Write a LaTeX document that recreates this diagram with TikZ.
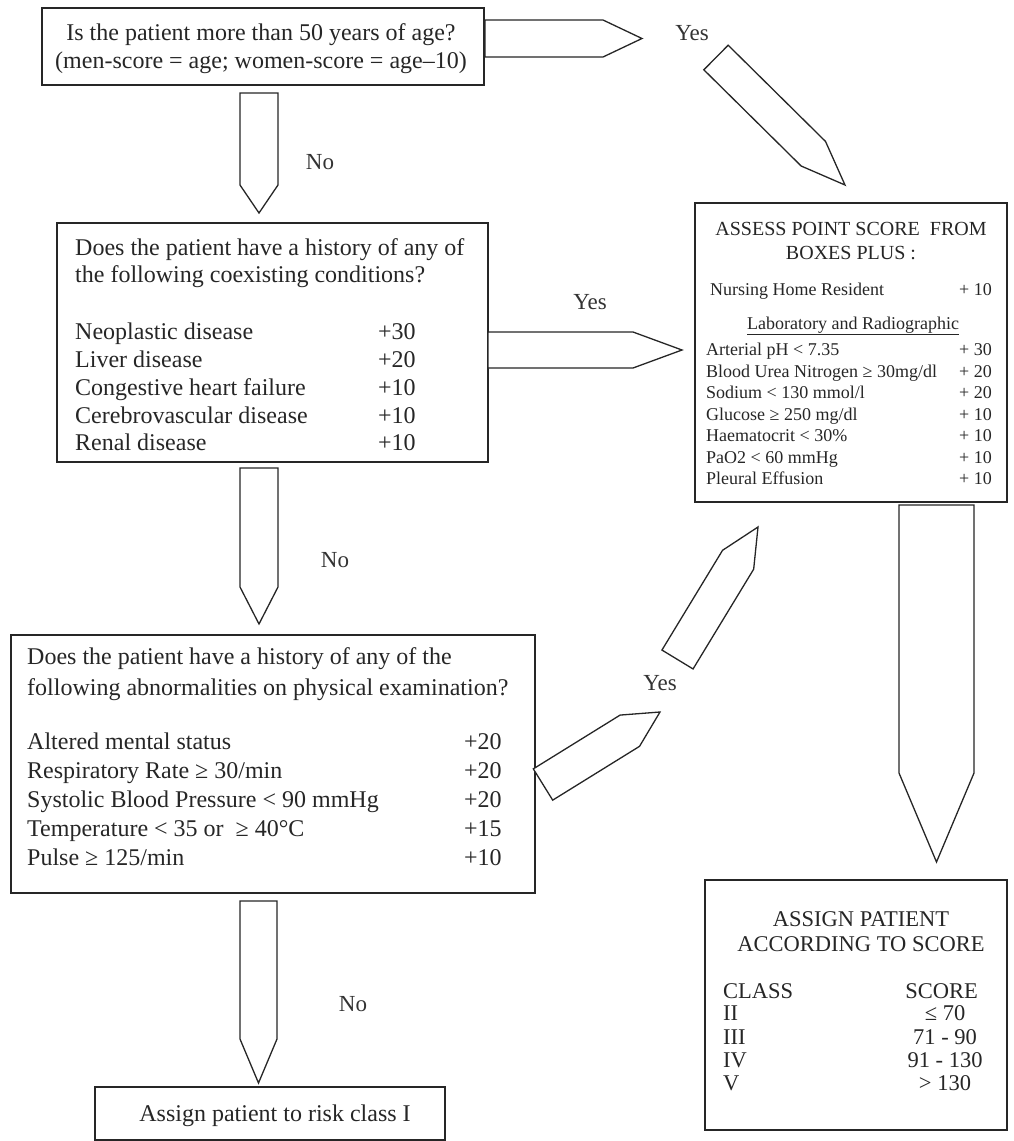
\documentclass[tikz,border=0pt]{standalone}
\usepackage{fontspec}
\setmainfont{Liberation Serif}
\usetikzlibrary{calc}

% Block arrow: #1 tail centre, #2 tip, #3 half width, #4 head length
\newcommand{\blockarrow}[4]{%
  \coordinate (ba-c) at ($(#2)!#4!(#1)$);
  \draw[blk] ($(#1)!#3!90:(#2)$) -- ($(ba-c)!#3!90:(#2)$) -- (#2)
    -- ($(ba-c)!#3!-90:(#2)$) -- ($(#1)!#3!-90:(#2)$) -- cycle;}

\begin{document}
\begin{tikzpicture}[x=1pt,y=-1pt,
  frame/.style={draw=black!85, line width=1.3pt, inner sep=0pt, outer sep=0pt},
  big/.style={font=\fontsize{24}{28}\selectfont, text=black!85, inner sep=0pt},
  mid/.style={font=\fontsize{22.5}{26}\selectfont, text=black!85, inner sep=0pt},
  caps/.style={font=\fontsize{20}{24}\selectfont, text=black!85, inner sep=0pt},
  small/.style={font=\fontsize{18}{21}\selectfont, text=black!85, inner sep=0pt},
  lbl/.style={font=\fontsize{23}{27}\selectfont, text=black!80, inner sep=0pt},
  blk/.style={draw=black!85, line width=1.3pt, line join=miter, fill=white}]

\useasboundingbox (0,0) rectangle (1013,1141);

% ---- Question 1: age
\node[frame, minimum width=442pt, minimum height=77pt] (q1) at (263,46.5) {};
\node[big, anchor=base] (q1a) at (261,40) {Is the patient more than 50 years of age?};
\node[big, anchor=base] (q1b) at (261,68) {(men-score = age; women-score = age--10)};

% ---- Question 2: coexisting conditions
\node[frame, minimum width=431pt, minimum height=239pt] (q2) at (272.5,342.5) {};
\node[big, anchor=base west] (q2a) at (75,255) {Does the patient have a history of any of};
\node[big, anchor=base west] (q2b) at (75,282) {the following coexisting conditions?};
\node[big, anchor=base west] (c1) at (75,339) {Neoplastic disease};
\node[big, anchor=base west] (c2) at (75,367) {Liver disease};
\node[big, anchor=base west] (c3) at (75,395) {Congestive heart failure};
\node[big, anchor=base west] (c4) at (75,423) {Cerebrovascular disease};
\node[big, anchor=base west] (c5) at (75,450) {Renal disease};
\node[big, anchor=base west] (v1) at (378,339) {+30};
\node[big, anchor=base west] (v2) at (378,367) {+20};
\node[big, anchor=base west] (v3) at (378,395) {+10};
\node[big, anchor=base west] (v4) at (378,423) {+10};
\node[big, anchor=base west] (v5) at (378,450) {+10};

% ---- Question 3: physical examination
\node[frame, minimum width=524pt, minimum height=258pt] (q3) at (273,764) {};
\node[big, anchor=base west] (q3a) at (27,664) {Does the patient have a history of any of the};
\node[big, anchor=base west] (q3b) at (27,695) {following abnormalities on physical examination?};
\node[big, anchor=base west] (p1) at (27,749) {Altered mental status};
\node[big, anchor=base west] (p2) at (27,778) {Respiratory Rate ≥ 30/min};
\node[big, anchor=base west] (p3) at (27,807) {Systolic Blood Pressure < 90 mmHg};
\node[big, anchor=base west] (p4) at (27,836) {Temperature < 35 or\ \ ≥ 40°C};
\node[big, anchor=base west] (p5) at (27,865) {Pulse ≥ 125/min};
\node[big, anchor=base west] (w1) at (464,749) {+20};
\node[big, anchor=base west] (w2) at (464,778) {+20};
\node[big, anchor=base west] (w3) at (464,807) {+20};
\node[big, anchor=base west] (w4) at (464,836) {+15};
\node[big, anchor=base west] (w5) at (464,865) {+10};

% ---- Class I
\node[frame, minimum width=350pt, minimum height=53pt] (r1) at (270,1113.5) {};
\node[big, anchor=base] (r1t) at (275,1121) {Assign patient to risk class I};

% ---- Point score box
\node[frame, minimum width=312pt, minimum height=299pt] (ps) at (851,352.5) {};
\node[caps, anchor=base] (psa) at (851,235) {ASSESS POINT SCORE\ \ FROM};
\node[caps, anchor=base] (psb) at (851,259) {BOXES PLUS :};
\node[small, anchor=base west] (nh) at (710,295) {Nursing Home Resident};
\node[small, anchor=base east] (nhv) at (992,295) {+ 10};
\node[small, anchor=base] (lab) at (853,329) {\underline{Laboratory and Radiographic}};
\node[small, anchor=base west] (l1) at (706,355.5) {Arterial pH < 7.35};
\node[small, anchor=base west] (l2) at (706,377) {Blood Urea Nitrogen ≥ 30mg/dl};
\node[small, anchor=base west] (l3) at (706,398.5) {Sodium < 130 mmol/l};
\node[small, anchor=base west] (l4) at (706,420) {Glucose ≥ 250 mg/dl};
\node[small, anchor=base west] (l5) at (706,441.5) {Haematocrit < 30\%};
\node[small, anchor=base west] (l6) at (706,463) {PaO2 < 60 mmHg};
\node[small, anchor=base west] (l7) at (706,484.5) {Pleural Effusion};
\node[small, anchor=base east] (m1) at (992,355.5) {+ 30};
\node[small, anchor=base east] (m2) at (992,377) {+ 20};
\node[small, anchor=base east] (m3) at (992,398.5) {+ 20};
\node[small, anchor=base east] (m4) at (992,420) {+ 10};
\node[small, anchor=base east] (m5) at (992,441.5) {+ 10};
\node[small, anchor=base east] (m6) at (992,463) {+ 10};
\node[small, anchor=base east] (m7) at (992,484.5) {+ 10};

% ---- Class assignment box
\node[frame, minimum width=302pt, minimum height=250pt] (cl) at (856,1005) {};
\node[mid, anchor=base] (cla) at (861,926) {ASSIGN PATIENT};
\node[mid, anchor=base] (clb) at (861,951) {ACCORDING TO SCORE};
\node[mid, anchor=base west] (clh) at (723,998) {CLASS};
\node[mid, anchor=base east] (sch) at (978,998) {SCORE};
\node[mid, anchor=base west] (k2) at (723,1020) {II};
\node[mid, anchor=base west] (k3) at (723,1044) {III};
\node[mid, anchor=base west] (k4) at (723,1067) {IV};
\node[mid, anchor=base west] (k5) at (723,1090) {V};
\node[mid, anchor=base] (s2) at (945,1020) {≤ 70};
\node[mid, anchor=base] (s3) at (945,1044) {71 - 90};
\node[mid, anchor=base] (s4) at (945,1067) {91 - 130};
\node[mid, anchor=base] (s5) at (945,1090) {> 130};

% ---- Branch labels
\node[lbl] (yes1) at (692,33) {Yes};
\node[lbl] (yes2) at (590,302) {Yes};
\node[lbl] (yes3) at (660,683) {Yes};
\node[lbl] (no1) at (320,162) {No};
\node[lbl] (no2) at (335,560) {No};
\node[lbl] (no3) at (353,1004) {No};

% ---- Arrow end points
\coordinate (a1s) at (485,38.5);   \coordinate (a1e) at (642,38.5);
\coordinate (a2s) at (716,57.5);   \coordinate (a2e) at (845,185);
\coordinate (a3s) at (259,93);     \coordinate (a3e) at (259,213);
\coordinate (a4s) at (488,350);    \coordinate (a4e) at (682,350);
\coordinate (a5s) at (259,468);    \coordinate (a5e) at (259,624);
\coordinate (a6s) at (543,784.5);  \coordinate (a6e) at (660,712);
\coordinate (a7s) at (677.5,659.5);\coordinate (a7e) at (758,527);
\coordinate (a8s) at (936.5,505);  \coordinate (a8e) at (936.5,862);
\coordinate (a9s) at (258.5,901);  \coordinate (a9e) at (258.5,1083);

% ---- Block arrows
\blockarrow{a1s}{a1e}{18.5pt}{39pt}
\blockarrow{a2s}{a2e}{17.3pt}{44.5pt}
\blockarrow{a3s}{a3e}{19pt}{28pt}
\blockarrow{a4s}{a4e}{18pt}{49pt}
\blockarrow{a5s}{a5e}{19pt}{37pt}
\blockarrow{a6s}{a6e}{18.4pt}{35.5pt}
\blockarrow{a7s}{a7e}{18.2pt}{38.3pt}
\blockarrow{a8s}{a8e}{37.5pt}{89pt}
\blockarrow{a9s}{a9e}{18.5pt}{44pt}

\end{tikzpicture}
\end{document}
